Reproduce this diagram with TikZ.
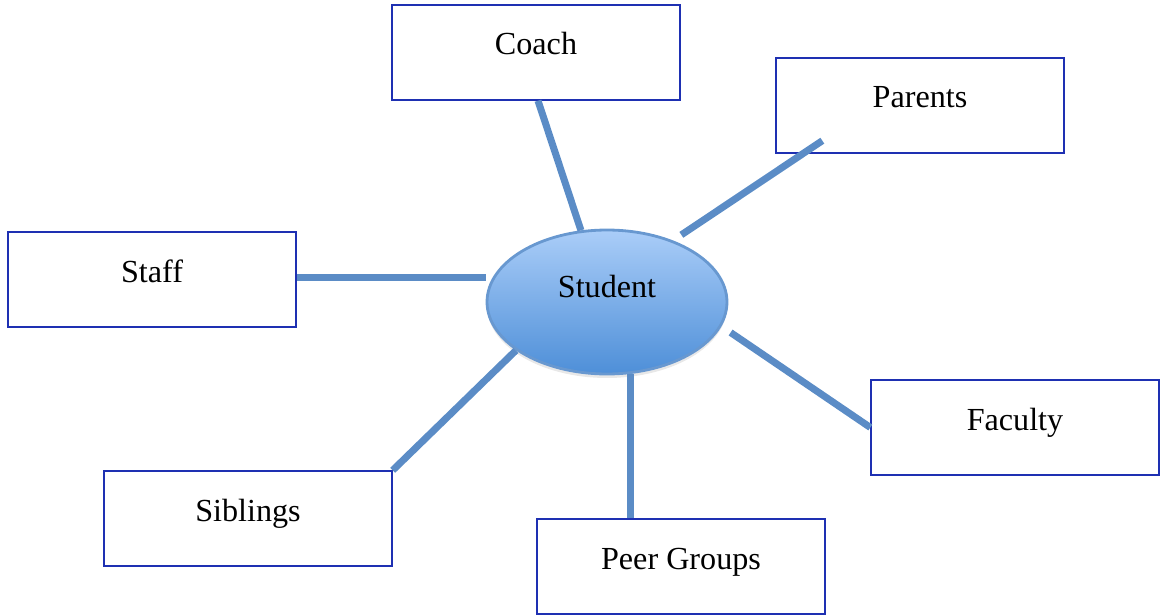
\documentclass[tikz,border=0pt]{standalone}
\usepackage{fontspec}
\setmainfont{Liberation Serif}
\usetikzlibrary{calc,shapes.geometric,shadows}
\definecolor{boxblue}{RGB}{30,48,178}
\definecolor{linkblue}{RGB}{91,140,198}
\definecolor{hubtop}{RGB}{170,205,248}
\definecolor{hubbottom}{RGB}{78,143,216}
\definecolor{hubedge}{RGB}{104,152,208}
\tikzset{
    block/.style={rectangle, draw=boxblue, line width=0.8pt, fill=white, minimum width=5.76cm, minimum height=1.9cm, text height=0.5cm, text depth=0.4cm, font=\fontsize{18.3}{20}\selectfont},
    hub/.style={ellipse, draw=hubedge, line width=1.6pt, top color=hubtop, bottom color=hubbottom, minimum width=4.8cm, minimum height=2.88cm, text height=0.4cm, text depth=0.58cm, font=\fontsize{18.3}{20}\selectfont, drop shadow={opacity=0.18, shadow xshift=0pt, shadow yshift=-0.08cm}},
    link/.style={draw=linkblue, line width=4pt},
}

\begin{document}
\begin{tikzpicture}
        [x=0.02cm, y=-0.02cm]
        \useasboundingbox (0,0) rectangle (1160,615);

        % Student in the middle
        \node[hub] (student) at (607,302) {Student};

        % Surrounding groups
        \node[block] (coach) at (536,52.5) {Coach};
        \node[block] (parents) at (920,105.5) {Parents};
        \node[block] (staff) at (152,279.5) {Staff};
        \node[block] (faculty) at (1015,427.5) {Faculty};
        \node[block] (siblings) at (248,518.5) {Siblings};
        \node[block] (peer) at (681,566.5) {Peer Groups};

        % Lines
        \draw[link] ($(coach.south)+(2,0)$) -- (student.110);
        \draw[link, shorten >=0.2cm] ($(parents.south west)+(47,-13)$) -- (student.43);
        \draw[link, shorten >=0.12cm] (staff.east |- student.168) -- (student.168);
        \draw[link, shorten >=0.22cm] (faculty.west) -- (student.-12);
        \draw[link] (siblings.north east) -- (student.208);
        \draw[link] (student.288 |- peer.north) -- (student.288);

    \end{tikzpicture}
\end{document}
